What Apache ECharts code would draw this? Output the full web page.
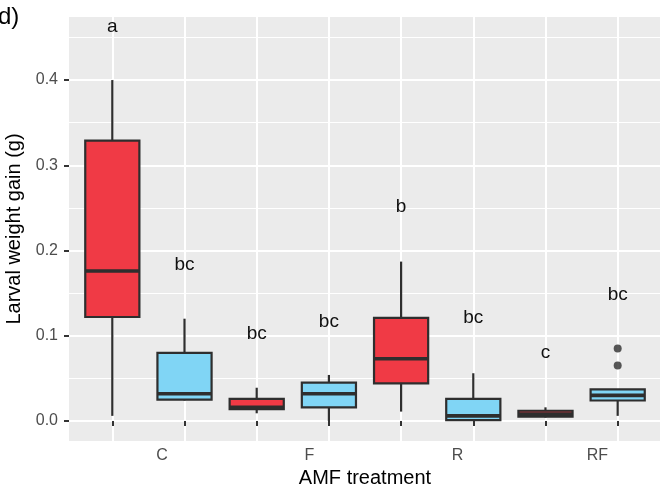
<!DOCTYPE html>
<html>
<head>
<meta charset="utf-8">
<script src="https://cdn.jsdelivr.net/npm/echarts@6/dist/echarts.min.js"></script>
<style>
html,body{margin:0;padding:0;background:#fff;}
#chart{width:660px;height:490px;}
</style>
</head>
<body>
<div id="chart"></div>
<script>
// ---- data ----
const boxPositions = [1, 2, 3, 4, 5, 6, 7, 8];
const whiskerLow  = [0.006, 0.024, 0.009, 0.000, 0.011, 0.001, 0.004, 0.006];
const q1Values    = [0.122, 0.025, 0.014, 0.016, 0.044, 0.001, 0.005, 0.024];
const medians     = [0.176, 0.032, 0.016, 0.032, 0.073, 0.006, 0.008, 0.030];
const q3Values    = [0.329, 0.080, 0.026, 0.045, 0.121, 0.026, 0.012, 0.037];
const whiskerHigh = [0.400, 0.120, 0.039, 0.054, 0.187, 0.056, 0.016, 0.037];
const boxFillGroup = [0, 1, 0, 1, 0, 1, 0, 1];
const outlierX = [8, 8];
const outlierY = [0.085, 0.065];
const letters = ['a', 'bc', 'bc', 'bc', 'b', 'bc', 'c', 'bc'];
const letterY = [0.463, 0.183, 0.102, 0.116, 0.251, 0.121, 0.080, 0.148];
const tickLabels = ['C', 'F', 'R', 'RF'];
const tickLabelPos = [1.69, 3.73, 5.78, 7.72];
const yTicks = [0, 0.1, 0.2, 0.3, 0.4];
const yMinorTicks = [0.05, 0.15, 0.25, 0.35, 0.45];

const fills = ['#F03A45', '#80D5F5'];
const FONT = "'Liberation Sans', Arial, sans-serif";

const boxData = boxPositions.map((x, i) => [x, whiskerLow[i], q1Values[i], medians[i], q3Values[i], whiskerHigh[i]]);
const outlierData = outlierX.map((x, i) => [x, outlierY[i]]);
const letterData = boxPositions.map((x, i) => ({ value: [x, letterY[i]], name: letters[i] }));

const chart = echarts.init(document.getElementById('chart'), null, { renderer: 'canvas' });

const option = {
  animation: false,
  backgroundColor: '#ffffff',
  grid: {
    left: 69, top: 17, right: -1, bottom: 49,
    show: true, backgroundColor: '#EBEBEB', borderWidth: 0,
    containLabel: false, outerBoundsMode: 'none'
  },
  graphic: [{
    type: 'text', left: -2, top: 5,
    style: { text: 'd)', font: "24px " + FONT, fill: '#000' }
  }],
  xAxis: [{
    type: 'value', min: 0.4, max: 8.6,
    name: 'AMF treatment', nameLocation: 'middle', nameGap: 26,
    nameTextStyle: { fontFamily: FONT, fontSize: 20, color: '#000' },
    axisLine: { show: false },
    axisTick: { show: true, length: 5, customValues: boxPositions, lineStyle: { color: '#333', width: 2 } },
    axisLabel: {
      show: true, customValues: tickLabelPos, margin: 7,
      fontFamily: FONT, fontSize: 16, color: '#4D4D4D',
      formatter: function (v) {
        let best = 0, d = Infinity;
        tickLabelPos.forEach((p, i) => { if (Math.abs(p - v) < d) { d = Math.abs(p - v); best = i; } });
        return tickLabels[best];
      }
    },
    splitLine: { show: true, lineStyle: { color: '#FFFFFF', width: 2 } }
  }],
  yAxis: [{
    type: 'value', min: -0.0235, max: 0.474,
    name: 'Larval weight gain (g)', nameLocation: 'middle', nameGap: 38,
    nameTextStyle: { fontFamily: FONT, fontSize: 20, color: '#000' },
    axisLine: { show: false },
    axisTick: { show: true, length: 5, customValues: yTicks, lineStyle: { color: '#333', width: 2 } },
    axisLabel: {
      show: true, customValues: yTicks, margin: 11,
      fontFamily: FONT, fontSize: 16, color: '#4D4D4D',
      formatter: function (v) { return (Math.round(v * 10) / 10).toFixed(1); }
    },
    splitLine: { show: true, lineStyle: { color: '#FFFFFF', width: 2 } }
  }, {
    type: 'value', min: -0.0235, max: 0.474, position: 'left',
    axisLine: { show: false },
    axisTick: { show: false, customValues: yMinorTicks },
    axisLabel: { show: false },
    splitLine: { show: true, lineStyle: { color: '#FFFFFF', width: 1.2 } }
  }],
  series: [{
    type: 'custom',
    xAxisIndex: 0, yAxisIndex: 0,
    data: boxData,
    encode: { x: 0, y: [1, 2, 3, 4, 5] },
    clip: false,
    renderItem: function (params, api) {
      const x = api.value(0);
      const lo = api.value(1), q1 = api.value(2), med = api.value(3), q3 = api.value(4), hi = api.value(5);
      const halfW = api.size([0.75, 0])[0] / 2;
      const pLo = api.coord([x, lo]);
      const pQ1 = api.coord([x, q1]);
      const pMed = api.coord([x, med]);
      const pQ3 = api.coord([x, q3]);
      const pHi = api.coord([x, hi]);
      const stroke = '#2E2E2E';
      const fill = fills[boxFillGroup[params.dataIndex]];
      return {
        type: 'group',
        children: [
          { type: 'line', shape: { x1: pHi[0], y1: pHi[1], x2: pQ3[0], y2: pQ3[1] }, style: { stroke: stroke, lineWidth: 2.2 } },
          { type: 'line', shape: { x1: pQ1[0], y1: pQ1[1], x2: pLo[0], y2: pLo[1] }, style: { stroke: stroke, lineWidth: 2.2 } },
          { type: 'rect', shape: { x: pQ3[0] - halfW, y: pQ3[1], width: halfW * 2, height: pQ1[1] - pQ3[1] },
            style: { fill: fill, stroke: stroke, lineWidth: 2.2 } },
          { type: 'line', shape: { x1: pMed[0] - halfW, y1: pMed[1], x2: pMed[0] + halfW, y2: pMed[1] },
            style: { stroke: stroke, lineWidth: 3.6 } }
        ]
      };
    }
  }, {
    type: 'scatter',
    xAxisIndex: 0, yAxisIndex: 0,
    data: outlierData,
    symbol: 'circle', symbolSize: 8,
    itemStyle: { color: '#2E2E2E' },
    z: 5
  }, {
    type: 'scatter',
    xAxisIndex: 0, yAxisIndex: 0,
    data: letterData,
    symbol: 'circle',
    symbolSize: 2,
    itemStyle: { color: 'rgba(0,0,0,0)' },
    label: {
      show: true, position: 'inside', formatter: '{b}',
      fontFamily: FONT, fontSize: 19, color: '#111111',
      textBorderWidth: 0, textShadowBlur: 0, opacity: 1
    },
    z: 6
  }]
};

chart.setOption(option);
</script>
</body>
</html>
